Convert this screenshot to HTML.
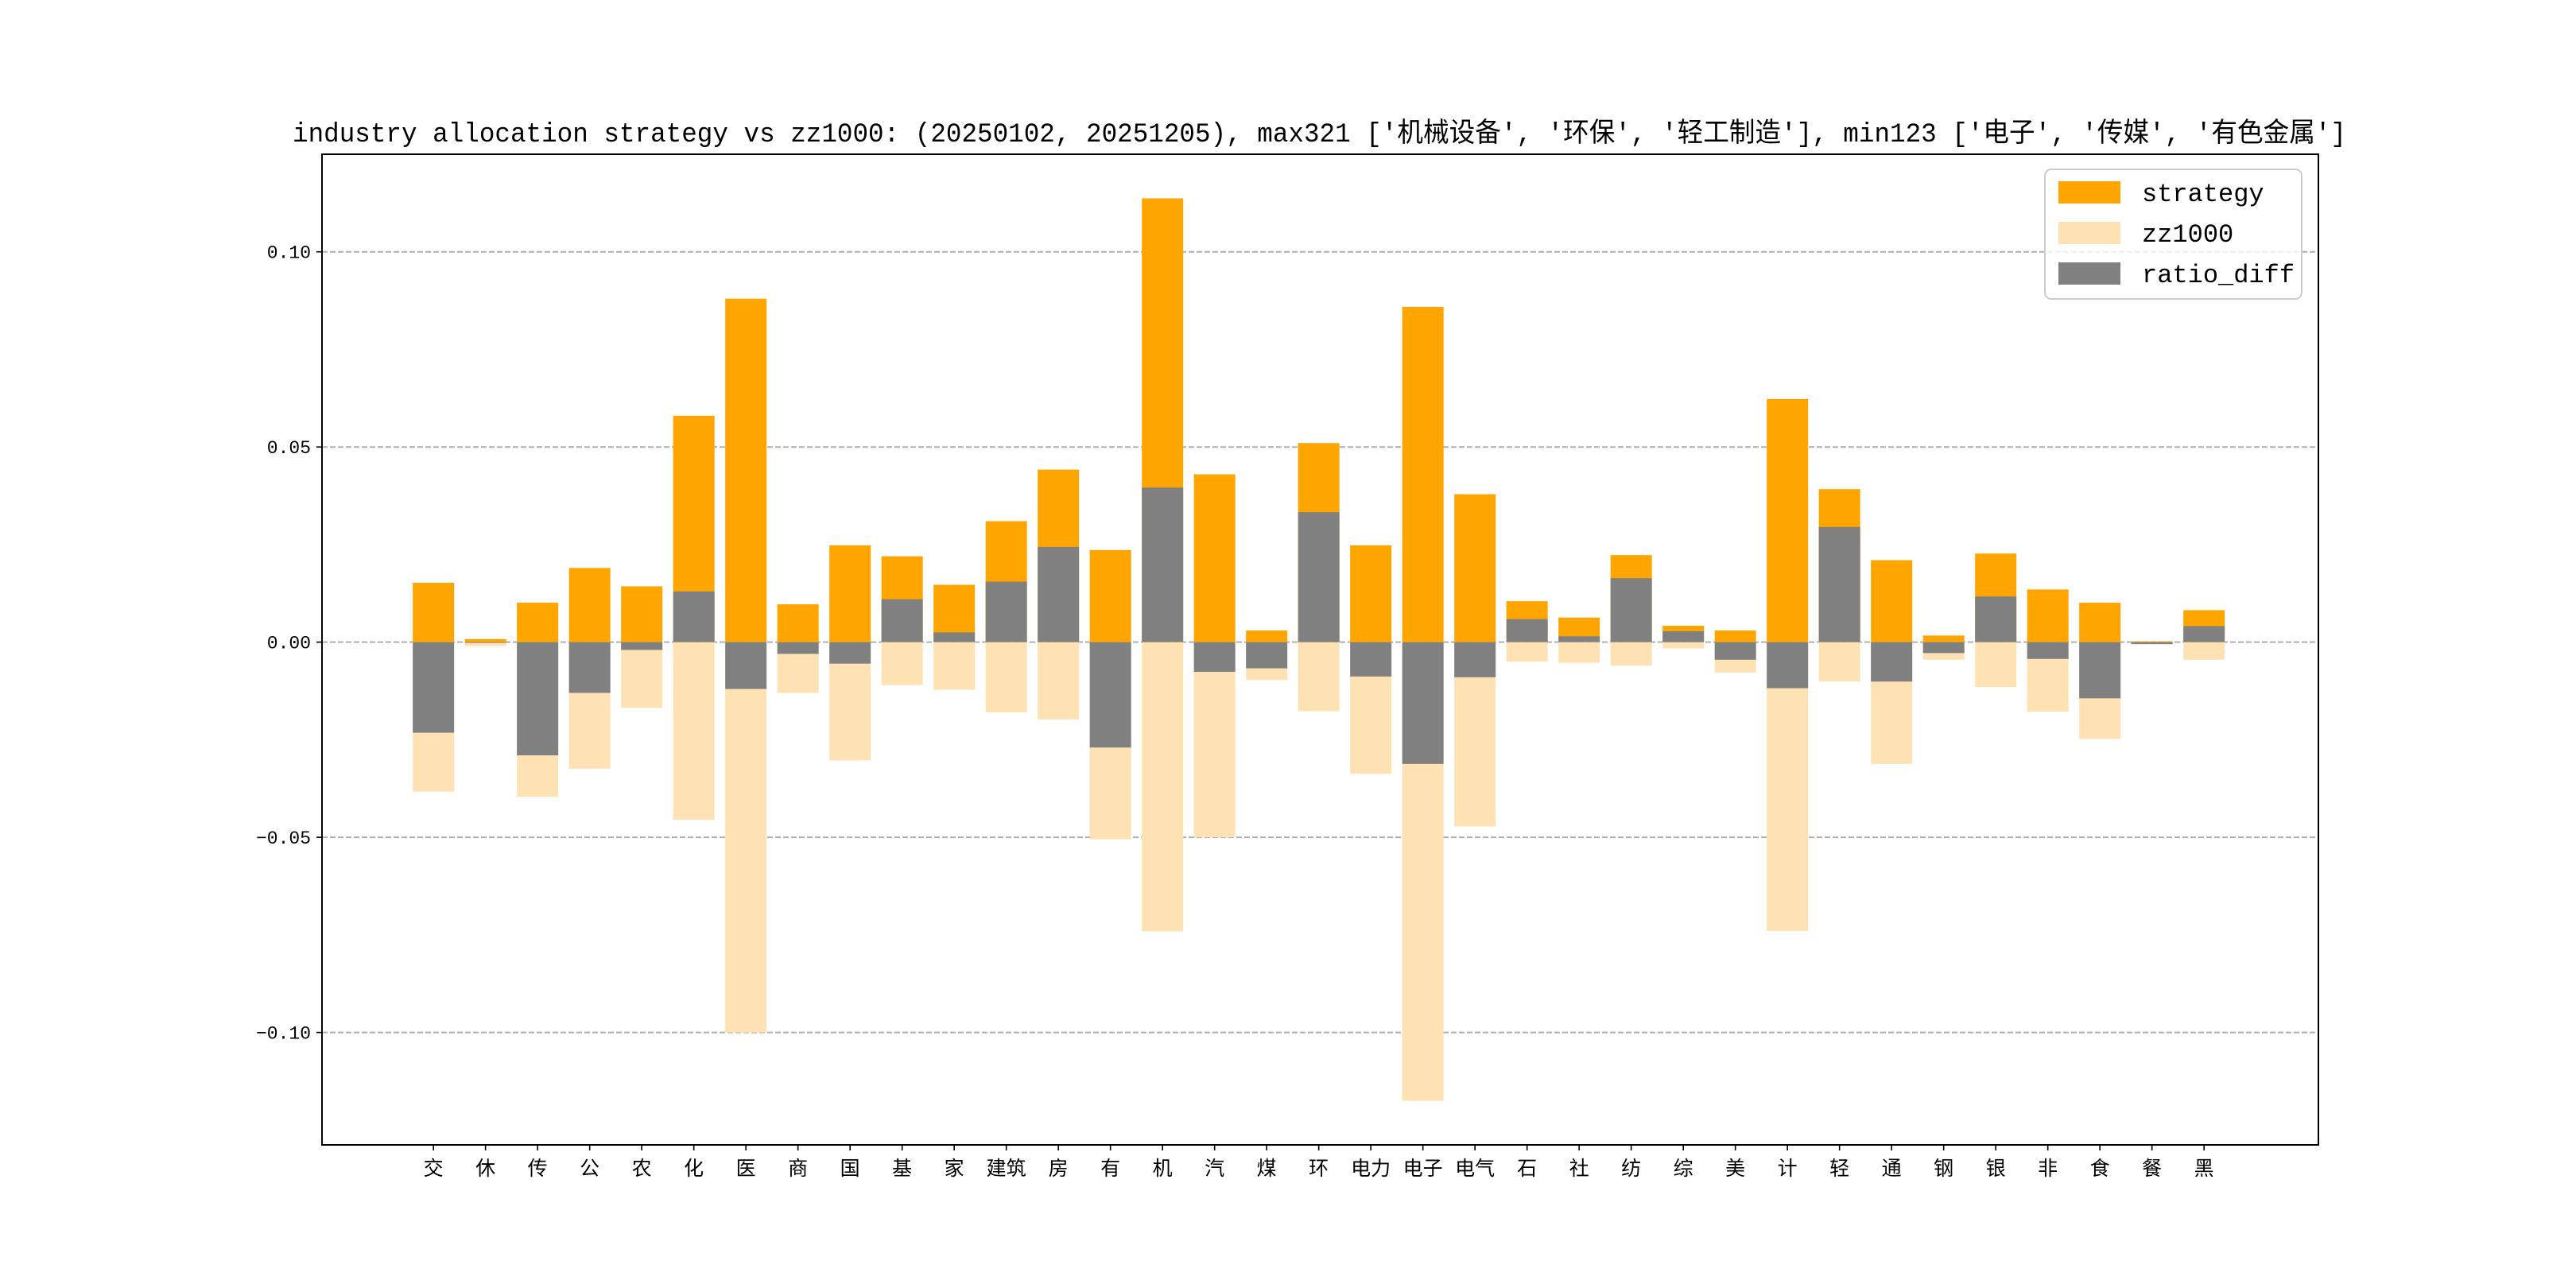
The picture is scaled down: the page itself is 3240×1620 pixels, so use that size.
<!DOCTYPE html>
<html><head><meta charset="utf-8"><style>
html,body{margin:0;padding:0;background:#fff;}
svg{display:block;}
text{font-family:"Liberation Mono","Noto Sans CJK SC",monospace;}
</style></head><body>
<svg id="chart" width="3240" height="1620" viewBox="0 0 3240 1620" xmlns="http://www.w3.org/2000/svg">
<rect x="0" y="0" width="3240" height="1620" fill="#fff"/>
<text x="368" y="178" font-size="34" textLength="2583" lengthAdjust="spacingAndGlyphs">industry allocation strategy vs zz1000: (20250102, 20251205), max321 ['机械设备', '环保', '轻工制造'], min123 ['电子', '传媒', '有色金属']</text>
<g id="grid"></g>
<g id="bars"></g>
<g id="axes"></g>
<g>
<rect x="2572" y="213" width="323" height="163" rx="8" fill="#fff" fill-opacity="0.8" stroke="#ccc" stroke-width="2"/>
<rect x="2589" y="228" width="78" height="28" fill="#ffa500"/>
<text x="2694" y="253" font-size="32">strategy</text>
<rect x="2589" y="279" width="78" height="28" fill="#ffe2b3"/>
<text x="2694" y="304" font-size="32">zz1000</text>
<rect x="2589" y="330" width="78" height="28" fill="#808080"/>
<text x="2694" y="355" font-size="32">ratio_diff</text>
</g>
</svg>
<script>
const categories = ["交","休","传","公","农","化","医","商","国","基","家","建筑","房","有","机","汽","煤","环","电力","电子","电气","石","社","纺","综","美","计","轻","通","钢","银","非","食","餐","黑"];
const strategyValues = [0.0152,0.0008,0.0101,0.019,0.0143,0.058,0.088,0.0097,0.0248,0.022,0.0147,0.031,0.0442,0.0236,0.1137,0.043,0.003,0.051,0.0248,0.0859,0.0379,0.0105,0.0063,0.0223,0.0042,0.003,0.0623,0.0392,0.021,0.0017,0.0227,0.0135,0.0101,0.0002,0.0082];
const zz1000Values = [-0.0383,-0.001,-0.0396,-0.0324,-0.0168,-0.0455,-0.100,-0.013,-0.0303,-0.011,-0.0122,-0.018,-0.0198,-0.0505,-0.0741,-0.050,-0.0097,-0.0177,-0.0337,-0.1175,-0.0472,-0.005,-0.0053,-0.006,-0.0016,-0.0078,-0.074,-0.0101,-0.0312,-0.0045,-0.0115,-0.0178,-0.0248,-0.0005,-0.0045];
const ratioDiffValues = [-0.0232,-0.0002,-0.029,-0.013,-0.002,0.013,-0.012,-0.003,-0.0055,0.011,0.0025,0.0155,0.0244,-0.027,0.0396,-0.0076,-0.0067,0.0333,-0.0088,-0.0312,-0.009,0.0059,0.0015,0.0164,0.0028,-0.0045,-0.0118,0.0295,-0.0101,-0.0028,0.0117,-0.0043,-0.0144,-0.0005,0.0041];
const yTicks = [-0.10,-0.05,0.00,0.05,0.10];
const yTickLabels = ["\u22120.10","\u22120.05","0.00","0.05","0.10"];

const NS="http://www.w3.org/2000/svg";
const L=405,R=2916,T=194,B=1440;
const yMin=-0.1288,yMax=0.125,xMin=-2.14,xStep=65.5,barW=52;
function yS(v){return T+(yMax-v)/(yMax-yMin)*(B-T);}
function xS(i){return L+(i-xMin)*xStep;}
function mk(tag,attrs,parent){const e=document.createElementNS(NS,tag);for(const k in attrs)e.setAttribute(k,attrs[k]);parent.appendChild(e);return e;}
const grid=document.getElementById('grid'),bars=document.getElementById('bars'),axes=document.getElementById('axes');
yTicks.forEach((v,i)=>{
  const y=yS(v);
  const g=mk('line',{x1:L,x2:R,y1:y,y2:y,stroke:'#b0b0b0','stroke-width':2,'stroke-dasharray':'7,3'},grid);
  
  
  const t=mk('line',{x1:L-7,x2:L,y1:y,y2:y,stroke:'#000','stroke-width':1.6},axes);
  
  
  const tx=mk('text',{x:L-14,y:y+8,'font-size':23,'text-anchor':'end'},axes);
  tx.textContent=yTickLabels[i];
  
  
});
function bar(i,v,fill,name){
  const y0=yS(0),y1=yS(v);
  const r=mk('rect',{x:xS(i)-barW/2,y:Math.min(y0,y1),width:barW,height:Math.max(Math.abs(y1-y0),0.5),fill:fill},bars);
  
  
}
categories.forEach((c,i)=>{bar(i,strategyValues[i],'#ffa500','bar-strategy');});
categories.forEach((c,i)=>{bar(i,zz1000Values[i],'#ffe2b3','bar-zz1000');});
categories.forEach((c,i)=>{bar(i,ratioDiffValues[i],'#808080','bar-ratio-diff');});
categories.forEach((c,i)=>{
  const x=xS(i);
  const t=mk('line',{x1:x,x2:x,y1:B,y2:B+7,stroke:'#000','stroke-width':1.6},axes);
  
  
  const tx=mk('text',{x:x,y:B+38,'font-size':25,'text-anchor':'middle'},axes);
  tx.textContent=c;
  
  
});
const frame=mk('rect',{x:L,y:T,width:R-L,height:B-T,fill:'none',stroke:'#000','stroke-width':2},axes);


</script>
</body></html>
